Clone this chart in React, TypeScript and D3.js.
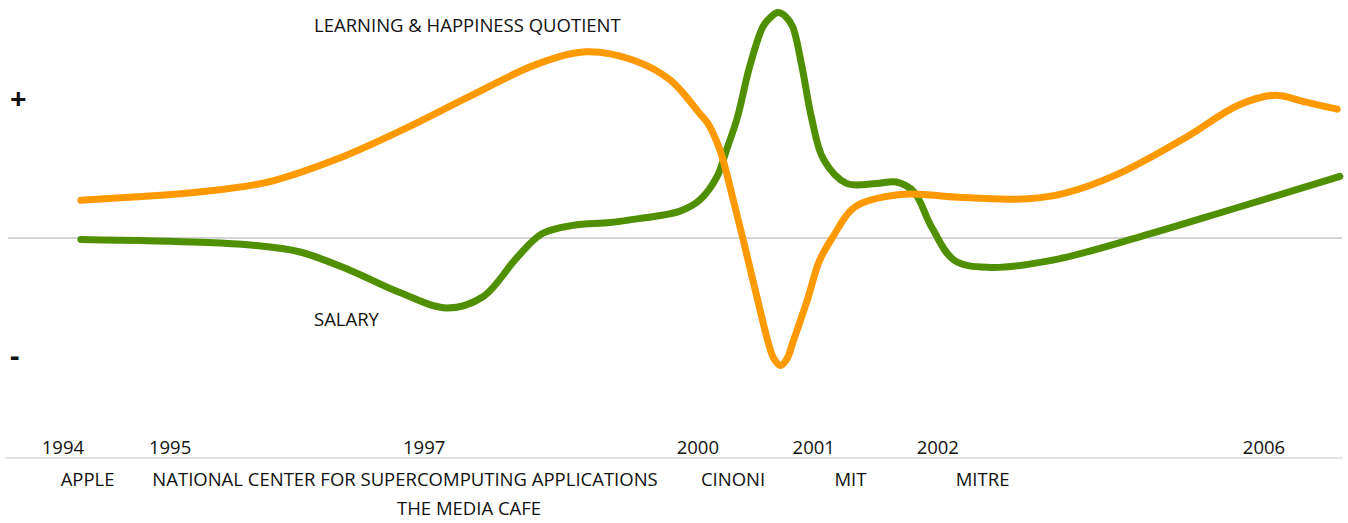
import React from 'react';
import * as d3 from 'd3';

// timeline position (0-1000 across the page) and value (+/-)
const learningT = [60, 149, 199, 249, 298, 348, 398, 435, 470, 497, 519, 525, 534, 544, 551, 555, 562, 570, 574, 579, 584, 588, 599, 608, 618, 634, 668, 714, 763, 790, 830, 880, 919, 946, 969, 992];
const learningV = [0.27, 0.33, 0.4, 0.56, 0.77, 1.01, 1.24, 1.33, 1.27, 1.13, 0.89, 0.82, 0.63, 0.27, 0.0, -0.16, -0.44, -0.75, -0.86, -0.91, -0.86, -0.75, -0.44, -0.16, 0.01, 0.22, 0.31, 0.29, 0.28, 0.32, 0.46, 0.72, 0.95, 1.02, 0.97, 0.92];

const salaryT = [60, 149, 185.5, 222.6, 259.6, 296.7, 331.6, 358.3, 383.5, 402, 425, 452.5, 475, 504, 519, 532, 539, 547, 556, 566, 572, 577, 583, 588, 595, 602, 611, 628, 650, 665, 678, 691, 708, 734, 780, 846, 912, 994];
const salaryV = [-0.01, -0.03, -0.05, -0.1, -0.23, -0.39, -0.5, -0.42, -0.14, 0.03, 0.09, 0.11, 0.14, 0.19, 0.27, 0.44, 0.63, 0.86, 1.22, 1.51, 1.58, 1.61, 1.58, 1.51, 1.22, 0.86, 0.56, 0.39, 0.39, 0.4, 0.33, 0.08, -0.16, -0.21, -0.16, 0.01, 0.2, 0.44];

const years = ['1994', '1995', '1997', '2000', '2001', '2002', '2006'];
const yearT = [31, 110.5, 299, 502, 588, 680, 922];

const companies = ['APPLE', 'NATIONAL CENTER FOR SUPERCOMPUTING APPLICATIONS', 'CINONI', 'MIT', 'MITRE'];
const companyT = [45, 113, 520, 619, 709];
const companies2 = ['THE MEDIA CAFE'];
const companies2T = [294.5];

const W = 1348;
const H = 523;

const App: React.FC = () => {
  const x = d3.scaleLinear().domain([0, 1000]).range([0, W]);
  const y = d3.scaleLinear().domain([-1, 1]).range([378, 98]);

  const line = d3.line<[number, number]>()
    .x(d => x(d[0]))
    .y(d => y(d[1]))
    .curve(d3.curveCatmullRom.alpha(0.5));

  const learning = learningT.map((t, i) => [t, learningV[i]] as [number, number]);
  const salary = salaryT.map((t, i) => [t, salaryV[i]] as [number, number]);

  const font = '"Open Sans", "Noto Sans", sans-serif';

  return (
    <svg width={W} height={H} style={{ position: 'absolute', left: 0, top: 0 }}
      fontFamily={font} fontSize={18.5} fill="#111">
      <line x1={8} x2={1342} y1={y(0)} y2={y(0)} stroke="#aaa" strokeWidth={1} />
      <line x1={5} x2={1343} y1={458} y2={458} stroke="#ddd" strokeWidth={1.5} />

      <path d={line(salary) || ''} fill="none" stroke="#4f8f00" strokeWidth={7} strokeLinecap="round" />
      <path d={line(learning) || ''} fill="none" stroke="#ff9900" strokeWidth={7} strokeLinecap="round" />

      <text x={10} y={y(1) + 11} fontSize={29} fontWeight="bold">+</text>
      <text x={10} y={y(-1) - 12} fontSize={29} fontWeight="bold">-</text>

      <text x={314} y={32}>LEARNING &amp; HAPPINESS QUOTIENT</text>
      <text x={314} y={326}>SALARY</text>

      {years.map((yr, i) => (
        <text key={yr} x={x(yearT[i])} y={454}>{yr}</text>
      ))}
      {companies.map((c, i) => (
        <text key={c} x={x(companyT[i])} y={486}>{c}</text>
      ))}
      {companies2.map((c, i) => (
        <text key={c} x={x(companies2T[i])} y={515}>{c}</text>
      ))}
    </svg>
  );
};

export default App;
